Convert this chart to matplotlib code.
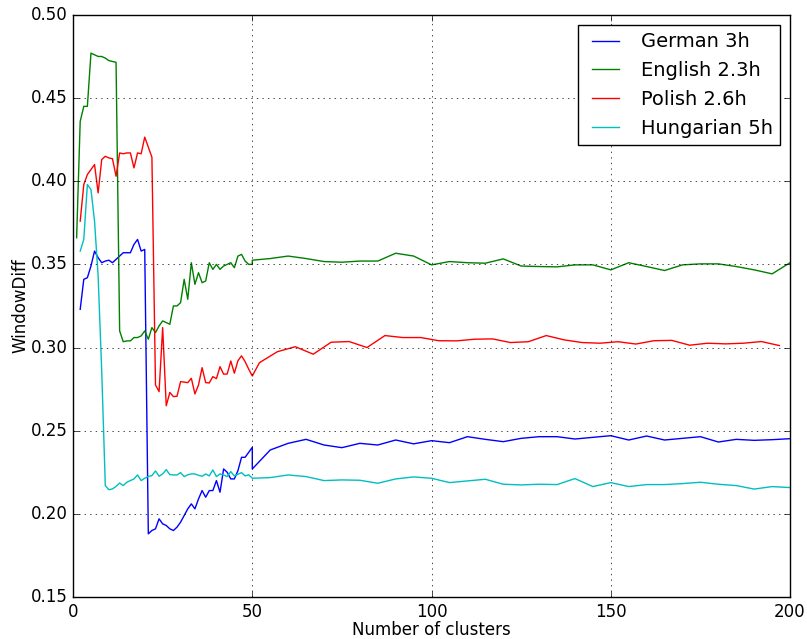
import numpy as np
import matplotlib
matplotlib.use("Agg")
import matplotlib.pyplot as plt

# first part: every cluster count, second part: every 5 clusters
german_x1 = list(range(2, 51))
german_y1 = [0.323, 0.341, 0.342, 0.349, 0.358, 0.354, 0.351, 0.352, 0.3525, 0.351,
             0.353, 0.355, 0.357, 0.357, 0.357, 0.362, 0.365, 0.358, 0.359, 0.188,
             0.190, 0.191, 0.197, 0.194, 0.193, 0.191, 0.190, 0.192, 0.195, 0.199,
             0.203, 0.206, 0.203, 0.209, 0.214, 0.210, 0.214, 0.214, 0.220, 0.213,
             0.227, 0.225, 0.221, 0.221, 0.226, 0.234, 0.234, 0.237, 0.240]
german_x2 = list(range(50, 201, 5))
german_y2 = [0.227, 0.2384, 0.2424, 0.2448, 0.2414, 0.2398, 0.2424, 0.2414, 0.2444, 0.2421,
             0.244, 0.2428, 0.2464, 0.2448, 0.2434, 0.2454, 0.2464, 0.2464, 0.245, 0.246,
             0.247, 0.2444, 0.2468, 0.2444, 0.2454, 0.2464, 0.2432, 0.2448, 0.2442, 0.2446,
             0.2452]

english_x1 = list(range(1, 51))
english_y1 = [0.366, 0.436, 0.445, 0.445, 0.477, 0.476, 0.475, 0.475, 0.474, 0.4725,
              0.472, 0.4715, 0.310, 0.3035, 0.304, 0.304, 0.306, 0.306, 0.307, 0.310,
              0.305, 0.312, 0.309, 0.313, 0.316, 0.315, 0.314, 0.325, 0.325, 0.327,
              0.341, 0.329, 0.351, 0.338, 0.345, 0.339, 0.340, 0.351, 0.347, 0.350,
              0.347, 0.349, 0.350, 0.351, 0.348, 0.355, 0.356, 0.352, 0.350, 0.350]
english_x2 = list(range(50, 201, 5))
english_y2 = [0.3525, 0.3535, 0.355, 0.3535, 0.3517, 0.3513, 0.352, 0.352, 0.3567, 0.355,
              0.3497, 0.3517, 0.351, 0.3507, 0.3533, 0.349, 0.3487, 0.3485, 0.3497, 0.3497,
              0.3467, 0.351, 0.3487, 0.3463, 0.3497, 0.3503, 0.3503, 0.3487, 0.3467, 0.3443,
              0.351]

polish_x1 = list(range(2, 51))
polish_y1 = [0.376, 0.398, 0.404, 0.407, 0.410, 0.393, 0.413, 0.415, 0.414, 0.4135,
             0.403, 0.417, 0.4165, 0.417, 0.417, 0.408, 0.417, 0.4165, 0.4265, 0.4205,
             0.4144, 0.2775, 0.2735, 0.312, 0.265, 0.273, 0.2705, 0.2707, 0.2795, 0.2792,
             0.2789, 0.2815, 0.2721, 0.2775, 0.2879, 0.2789, 0.2787, 0.2825, 0.2813, 0.2885,
             0.284, 0.2841, 0.2919, 0.2846, 0.2921, 0.295, 0.2915, 0.287, 0.2829]
polish_x2 = list(range(52, 198, 5))
polish_y2 = [0.2909, 0.2975, 0.3005, 0.296, 0.3032, 0.3036, 0.300, 0.3072, 0.306, 0.306,
             0.3041, 0.304, 0.305, 0.3052, 0.303, 0.3035, 0.3072, 0.3046, 0.303, 0.3026,
             0.3035, 0.3021, 0.3041, 0.3043, 0.3014, 0.3026, 0.3022, 0.3026, 0.3036, 0.3012]

hungarian_x1 = list(range(2, 51))
hungarian_y1 = [0.358, 0.365, 0.398, 0.395, 0.376, 0.343, 0.286, 0.217, 0.2145, 0.215,
                0.2165, 0.2185, 0.217, 0.219, 0.220, 0.221, 0.2234, 0.220, 0.2214, 0.2225,
                0.223, 0.2258, 0.2226, 0.224, 0.2266, 0.2236, 0.2234, 0.2234, 0.2248, 0.2224,
                0.2235, 0.224, 0.224, 0.2232, 0.2226, 0.224, 0.2228, 0.2264, 0.2224, 0.224,
                0.2234, 0.2224, 0.2254, 0.2228, 0.2238, 0.2248, 0.2228, 0.2235, 0.2214]
hungarian_x2 = list(range(55, 201, 5))
hungarian_y2 = [0.2218, 0.2234, 0.2224, 0.220, 0.2204, 0.2202, 0.2184, 0.221, 0.2222,
                0.2214, 0.2188, 0.2198, 0.2208, 0.2178, 0.2174, 0.2178, 0.2176, 0.2212, 0.2164,
                0.2188, 0.2164, 0.2176, 0.2176, 0.2182, 0.219, 0.2178, 0.217, 0.2149, 0.2164,
                0.2158]

plt.style.use('classic')
fig = plt.figure(figsize=(8.07, 6.39), dpi=100, facecolor='white')
ax = fig.add_axes([0.0905, 0.0657, 0.8885, 0.911])

ax.plot(german_x1 + german_x2, german_y1 + german_y2, 'b-', label='German 3h')
ax.plot(english_x1 + english_x2, english_y1 + english_y2, 'g-', label='English 2.3h')
ax.plot(polish_x1 + polish_x2, polish_y1 + polish_y2, 'r-', label='Polish 2.6h')
ax.plot(hungarian_x1 + hungarian_x2, hungarian_y1 + hungarian_y2, 'c-', label='Hungarian 5h')

ax.set_xlim(0, 200)
ax.set_ylim(0.15, 0.50)
ax.set_xticks(np.arange(0, 201, 50))
ax.set_yticks(np.arange(0.15, 0.501, 0.05))
ax.set_xlabel('Number of clusters', labelpad=0)
ax.set_ylabel('WindowDiff', labelpad=1)
ax.grid(True)
ax.legend(loc='upper right', fontsize=14)

fig.savefig('out.png', dpi=100, facecolor='white')
